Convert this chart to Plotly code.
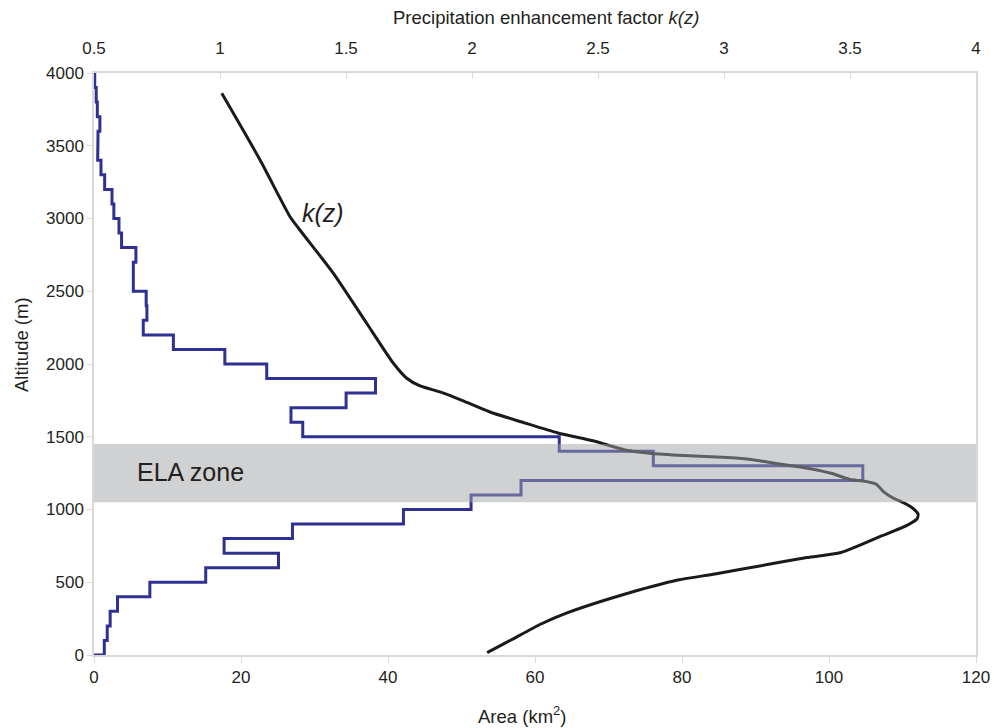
import plotly.graph_objects as go

# Altitude bins (lower edges, m) and glacier area per 100 m band (km2)
bin_lower = list(range(0, 4000, 100))
area = [1.4, 1.8, 2.2, 3.2, 7.6, 15.2, 25.1, 17.7, 27.0, 42.1,
        51.3, 58.1, 104.6, 76.1, 63.3, 28.4, 26.8, 34.3, 38.3, 23.5,
        17.8, 10.8, 6.7, 7.2, 7.1, 5.35, 5.35, 5.7, 3.75, 3.4,
        2.7, 2.45, 1.45, 0.95, 0.5, 0.55, 0.8, 0.45, 0.3, 0.1]
bin_width = 100

# Precipitation enhancement factor k(z)
kz_alt = [3860, 3402, 3012, 2921, 2623, 2280, 2005, 1902, 1849, 1808,
          1750, 1670, 1601, 1526, 1471, 1409, 1385, 1371, 1357, 1344,
          1320, 1282, 1247, 1206, 1196, 1175, 1120, 1079, 1045, 1007,
          969, 935, 893, 818, 704, 670, 625, 557, 515, 412,
          289, 213, 103, 16]
kz_val = [1.007, 1.159, 1.278, 1.317, 1.450, 1.582, 1.688, 1.741, 1.794, 1.873,
          1.960, 2.071, 2.198, 2.341, 2.484, 2.607, 2.714, 2.841, 3.016, 3.107,
          3.194, 3.337, 3.429, 3.500, 3.552, 3.603, 3.635, 3.671, 3.714, 3.750,
          3.770, 3.766, 3.728, 3.625, 3.464, 3.329, 3.183, 2.964, 2.817, 2.595,
          2.377, 2.274, 2.155, 2.060]

ela_low, ela_high = 1050, 1450
alt_ticks = list(range(0, 4001, 500))
area_ticks = list(range(0, 121, 20))
k_ticks = [0.5, 1, 1.5, 2, 2.5, 3, 3.5, 4]
k_tick_text = ["0.5", "1", "1.5", "2", "2.5", "3", "3.5", "4"]

# step outline of the hypsometry
hx, hy = [0], [0]
for lo, a in zip(bin_lower, area):
    hx += [a, a]
    hy += [lo, lo + bin_width]

FONT = "Liberation Sans, Arial, sans-serif"
TXT = "#231f20"
AX = "#d9d9d9"

fig = go.Figure()
fig.add_trace(go.Scatter(x=hx, y=hy, mode="lines",
                         line=dict(color="#2e3192", width=3),
                         hoverinfo="skip", showlegend=False))
fig.add_trace(go.Scatter(x=kz_val, y=kz_alt, mode="lines", xaxis="x2",
                         line=dict(color="#1a1a1a", width=3, shape="spline", smoothing=0.6),
                         hoverinfo="skip", showlegend=False))

fig.add_shape(type="rect", xref="paper", yref="y", x0=0, x1=1,
              y0=ela_low, y1=ela_high, layer="above",
              fillcolor="rgba(160,163,167,0.5)", line=dict(width=0))

fig.add_annotation(x=13.1, y=1258, xref="x", yref="y", text="ELA zone",
                   showarrow=False, font=dict(family=FONT, size=25, color=TXT))
fig.add_annotation(x=31.2, y=3038, xref="x", yref="y", text="<i>k(z)</i>",
                   showarrow=False, font=dict(family=FONT, size=25, color=TXT))

# axis titles as annotations (pixel-placed)
W, H = 994, 728
L, R, T, B = 94, 18, 73, 73
pw, ph = W - L - R, H - T - B
TS = 18.5
fig.add_annotation(xref="paper", yref="paper", x=(546 - L) / pw, y=(H - B - 18) / ph,
                   text="Precipitation enhancement factor <i>k(z)</i>", showarrow=False,
                   font=dict(family=FONT, size=TS, color=TXT), xanchor="center", yanchor="middle")
fig.add_annotation(xref="paper", yref="paper", x=(522 - L) / pw, y=(H - B - 715) / ph,
                   text="Area (km<sup>2</sup>)", showarrow=False,
                   font=dict(family=FONT, size=TS, color=TXT), xanchor="center", yanchor="middle")
fig.add_annotation(xref="paper", yref="paper", x=(21 - L) / pw, y=(H - B - 345) / ph,
                   text="Altitude (m)", showarrow=False, textangle=-90,
                   font=dict(family=FONT, size=TS, color=TXT), xanchor="center", yanchor="middle")

fig.update_layout(
    width=W, height=H,
    margin=dict(l=L, r=R, t=T, b=B, autoexpand=False),
    paper_bgcolor="white", plot_bgcolor="white",
    font=dict(family=FONT, size=17, color=TXT),
    xaxis=dict(range=[0, 120], tickvals=area_ticks, showgrid=False, zeroline=False,
               showline=True, linecolor=AX, linewidth=1.5, automargin=False,
               ticks="outside", ticklen=6, tickcolor=AX, tickwidth=1,
               tickfont=dict(size=17, color=TXT)),
    xaxis2=dict(range=[0.5, 4], overlaying="x", side="top", tickvals=k_ticks,
                ticktext=k_tick_text, showgrid=False, zeroline=False, automargin=False,
                showline=True, linecolor=AX, linewidth=1.5,
                ticks="inside", ticklen=5, tickcolor=AX, tickwidth=1,
                ticklabelstandoff=10,
                tickfont=dict(size=17, color=TXT)),
    yaxis=dict(range=[0, 4000], tickvals=alt_ticks, showgrid=False, zeroline=False,
               showline=True, linecolor=AX, linewidth=1.5, mirror=True, automargin=False,
               ticks="outside", ticklen=5, tickcolor=AX, tickwidth=1,
               tickfont=dict(size=17, color=TXT)),
)

fig.write_html("out.html")
